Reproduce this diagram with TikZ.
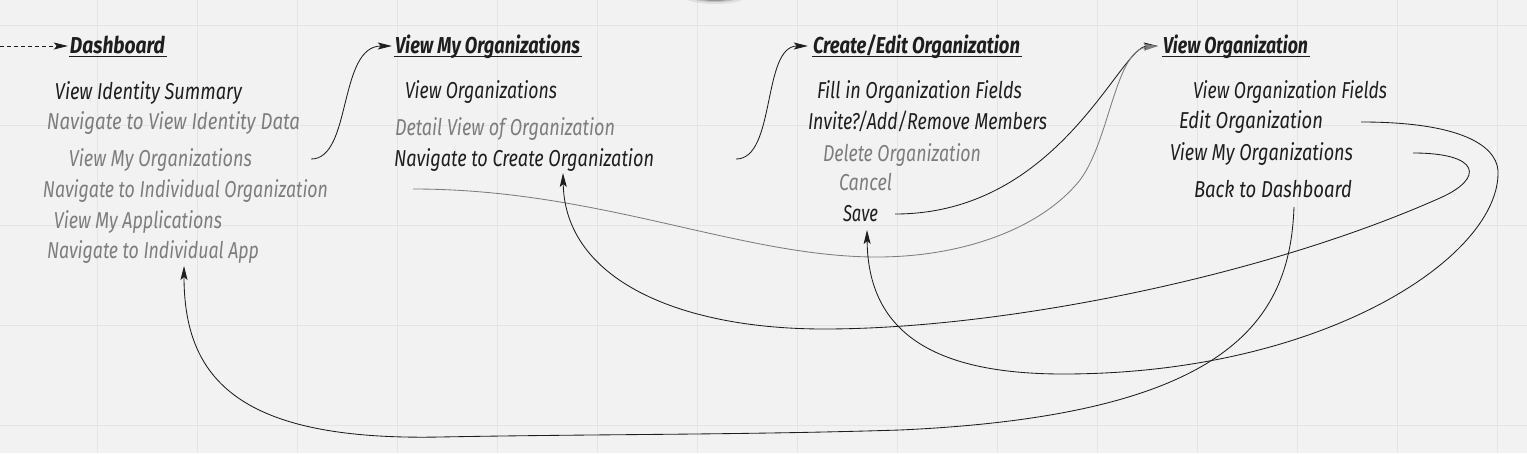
\documentclass[tikz,border=0pt]{standalone}
\usepackage{fontspec}
\setmainfont{Fira Sans}
\usetikzlibrary{arrows.meta}
\definecolor{bg}{RGB}{242,242,242}
\definecolor{gridc}{RGB}{228,228,228}
\definecolor{ink}{RGB}{30,30,30}
\definecolor{dim}{RGB}{125,125,125}
\newcommand{\fw}[2]{\resizebox{#1pt}{\height}{#2}}
\begin{document}
\begin{tikzpicture}[x=1pt,y=-1pt,
  font=\fontsize{23}{27}\selectfont\itshape,
  txt/.style={inner sep=0pt, anchor=base, text=ink},
  dimtxt/.style={txt, text=dim},
  ttl/.style={txt, font=\fontsize{23}{27}\selectfont\bfseries\itshape},
  link/.style={draw=ink, line width=0.85pt, -{Stealth[length=14pt,width=7pt,inset=3pt]}},
  glink/.style={link, draw=dim},
  uline/.style={draw=ink, line width=1.6pt},
  gridline/.style={draw=gridc, line width=1pt}]
\fill[bg] (0,0) rectangle (1527,453);
\useasboundingbox (0,0) rectangle (1527,453);
\foreach \gx in {97,197,...,1497} \draw[gridline] (\gx,0) -- (\gx,453);
\foreach \gy in {25,125,...,425} \draw[gridline] (0,\gy) -- (1527,\gy);
\fill[black, opacity=0.08] (715,-3) ellipse [x radius=30pt, y radius=7pt];
\fill[black, opacity=0.15] (715,-3) ellipse [x radius=24pt, y radius=5pt];
\fill[black, opacity=0.2] (715,-3) ellipse [x radius=18pt, y radius=4pt];

% column 1
\node[ttl] (dash) at (117.5,53) {\fw{95}{Dashboard}};
\node[txt] (vis) at (148.5,99) {\fw{187}{View Identity Summary}};
\node[dimtxt] (nvid) at (173.5,129) {\fw{253}{Navigate to View Identity Data}};
\node[dimtxt] (vmo) at (160.5,166) {\fw{183}{View My Organizations}};
\node[dimtxt] (nio) at (185.5,197) {\fw{285}{Navigate to Individual Organization}};
\node[dimtxt] (vma) at (138,228) {\fw{168}{View My Applications}};
\node[dimtxt] (nia) at (153,258) {\fw{212}{Navigate to Individual App}};
% column 2
\node[ttl] (tvmo) at (487.5,53) {\fw{185}{View My Organizations}};
\node[txt] (vo) at (481,98) {\fw{152}{View Organizations}};
\node[dimtxt] (dvo) at (505,135) {\fw{220}{Detail View of Organization}};
\node[txt] (nco) at (524,166) {\fw{260}{Navigate to Create Organization}};
% column 3
\node[ttl] (tcreate) at (916.5,53) {\fw{207}{Create/Edit Organization}};
\node[txt] (fof) at (919.5,98) {\fw{205}{Fill in Organization Fields}};
\node[txt] (iar) at (927.5,129) {\fw{239}{Invite?/Add/Remove Members}};
\node[dimtxt] (delo) at (902,161) {\fw{158}{Delete Organization}};
\node[dimtxt] (cancel) at (865.5,190) {\fw{53}{Cancel}};
\node[txt] (save) at (860.5,221) {\fw{35}{Save}};
% column 4
\node[ttl] (tvorg) at (1235.5,53) {\fw{145}{View Organization}};
\node[txt] (vof) at (1290,98) {\fw{194}{View Organization Fields}};
\node[txt] (eo) at (1251,128) {\fw{144}{Edit Organization}};
\node[txt] (vmo2) at (1261.5,160) {\fw{183}{View My Organizations}};
\node[txt] (btd) at (1273,197) {\fw{158}{Back to Dashboard}};

% underlines
\foreach \t in {dash,tvmo,tcreate,tvorg}
  \draw[uline] ([shift={(-1pt,-3.5pt)}]\t.base west) -- ([shift={(2pt,-3.5pt)}]\t.base east);

% entry arrow
\coordinate (entry) at (0,46);
\draw[link, dash pattern=on 4pt off 3pt] (entry) -- ([shift={(-2pt,7pt)}]dash.base west);

% connectors
\draw[link] ([shift={(59pt,7pt)}]vmo.base east) .. controls (352,159) and (338,46) .. ([shift={(-3pt,7pt)}]tvmo.base west);
\draw[link] ([shift={(82pt,7pt)}]nco.base east) .. controls (776,159) and (762,46) .. ([shift={(-5pt,7pt)}]tcreate.base west);
\draw[link] ([shift={(17pt,7pt)}]save.base east) .. controls (1060,214) and (1120,46) .. ([shift={(-5pt,7pt)}]tvorg.base west);
\draw[glink] ([shift={(85pt,8pt)}]nio.base east) .. controls (600,189) and (740,257) .. (877,257)
  .. controls (960,257) and (1040,230) .. (1080,180)
  .. controls (1110,140) and (1115,50) .. ([shift={(-5pt,7pt)}]tvorg.base west);
\draw[link] ([shift={(60pt,7pt)}]vmo2.base east) .. controls (1480,153) and (1485,178) .. (1440,198)
  .. controls (1260,278) and (1000,329) .. (824,329)
  .. controls (680,329) and (565,280) .. ([shift={(39pt,-7pt)}]nco.base);
\draw[link] ([shift={(38pt,6pt)}]eo.base east) .. controls (1470,122) and (1500,150) .. (1498,175)
  .. controls (1495,260) and (1320,374) .. (1063,374)
  .. controls (930,374) and (868,330) .. ([shift={(6.5pt,-9pt)}]save.base);
\draw[link] ([shift={(21pt,-10pt)}]btd.base) .. controls (1290,320) and (1230,415) .. (900,430)
  .. controls (740,435) and (600,434) .. (440,437)
  .. controls (240,441) and (184,380) .. ([shift={(31pt,-8pt)}]nia.base);
\end{tikzpicture}
\end{document}
